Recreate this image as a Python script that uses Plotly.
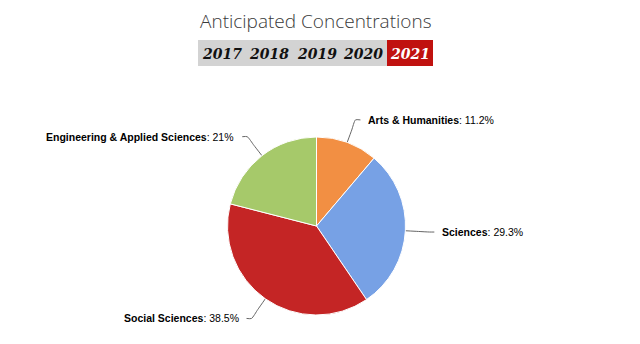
import math
import plotly.graph_objects as go

# ---- data ----
categories = ["Arts &amp; Humanities", "Sciences", "Social Sciences", "Engineering &amp; Applied Sciences"]
values = [11.2, 29.3, 38.5, 21]
value_labels = ["11.2%", "29.3%", "38.5%", "21%"]
colors = ["#f28f43", "#77a1e5", "#c42525", "#a6c96a"]
years = ["2017", "2018", "2019", "2020", "2021"]
selected_year = "2021"

W, H = 640, 344
cx, cy, r = 316.5, 226.0, 89.0
dist = 24.0

fig = go.Figure()

fig.add_trace(go.Pie(
    labels=categories, values=values, sort=False, direction="clockwise", rotation=0,
    marker=dict(colors=colors, line=dict(color="white", width=1)),
    textinfo="none", hoverinfo="label+percent", showlegend=False,
    domain=dict(x=[(cx - r) / W, (cx + r) / W], y=[(H - (cy + r)) / H, (H - (cy - r)) / H]),
))

annotations = []
total = sum(values)
cum = 0.0
for name, v, vl in zip(categories, values, value_labels):
    mid = (cum + v / 2) / total * 2 * math.pi
    cum += v
    s, c = math.sin(mid), math.cos(mid)
    p0 = (cx + r * s, cy - r * c)
    pm = (cx + (r + dist * 0.55) * s, cy - (r + dist * 0.55) * c)
    a = (cx + (r + dist) * s, cy - (r + dist) * c)
    side = 1 if s >= 0 else -1
    end = (a[0] + side * 5, a[1])
    fig.add_trace(go.Scatter(
        x=[p0[0], pm[0], a[0], end[0]], y=[p0[1], pm[1], a[1], end[1]],
        mode="lines", line=dict(color="#666666", width=1, shape="spline", smoothing=0.6),
        hoverinfo="skip", showlegend=False, xaxis="x", yaxis="y"))
    annotations.append(dict(
        x=end[0] + side * 6, y=a[1], xref="x", yref="y",
        xanchor="left" if side > 0 else "right", yanchor="middle",
        text=f"<b>{name}</b>: {vl}", showarrow=False,
        font=dict(family="Liberation Sans, Arial", size=10.5, color="#000000")))

# title
annotations.append(dict(
    x=316, y=21, xref="x", yref="y", xanchor="center", yanchor="middle",
    text="Anticipated Concentrations", showarrow=False,
    font=dict(family="Open Sans", size=19, color="#3a3a3a", weight=300)))

# year selector
shapes = [
    dict(type="rect", xref="x", yref="y", x0=198, x1=387, y0=40, y1=66,
         fillcolor="#d3d3d3", line=dict(width=0), layer="below"),
    dict(type="rect", xref="x", yref="y", x0=387, x1=433, y0=40, y1=66,
         fillcolor="#c0110f", line=dict(width=0), layer="below"),
]
y_centers = [222, 269, 317, 363, 410]
for yr, xc in zip(years, y_centers):
    annotations.append(dict(
        x=xc, y=54, xref="x", yref="y", xanchor="center", yanchor="middle",
        text=f"<b><i>{yr}</i></b>", showarrow=False,
        font=dict(family="DejaVu Serif", size=14,
                  color="#ffffff" if yr == selected_year else "#111111")))

fig.update_layout(
    width=W, height=H, margin=dict(l=0, r=0, t=0, b=0),
    paper_bgcolor="white", plot_bgcolor="rgba(0,0,0,0)",
    xaxis=dict(range=[0, W], visible=False, fixedrange=True, domain=[0, 1]),
    yaxis=dict(range=[H, 0], visible=False, fixedrange=True, domain=[0, 1]),
    annotations=annotations, shapes=shapes, showlegend=False,
)

fig.write_html("out.html")
